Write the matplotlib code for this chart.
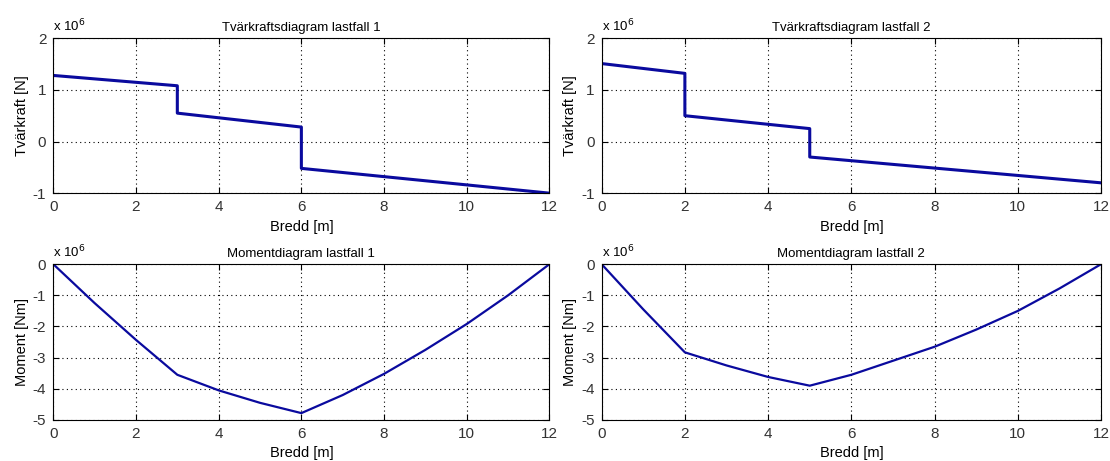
import matplotlib
matplotlib.use('Agg')
import matplotlib.pyplot as plt

plt.rcParams['font.family'] = ['Liberation Sans', 'DejaVu Sans']
plt.rcParams['axes.unicode_minus'] = False

# tvärkraft (x 1e6 N)
x_v1 = [0, 3, 3, 6, 6, 12]
v1 = [1.28, 1.08, 0.55, 0.28, -0.52, -1.0]
x_v2 = [0, 2, 2, 5, 5, 12]
v2 = [1.51, 1.32, 0.50, 0.25, -0.30, -0.80]

# moment (x 1e6 Nm)
x_m = [0, 1, 2, 3, 4, 5, 6, 7, 8, 9, 10, 11, 12]
m1 = [0, -1.25, -2.43, -3.55, -4.05, -4.45, -4.78, -4.2, -3.52, -2.75, -1.92, -1.0, 0]
m2 = [0, -1.45, -2.83, -3.25, -3.62, -3.9, -3.55, -3.1, -2.65, -2.1, -1.5, -0.78, 0]

line_col = '#0a0a9e'

fig = plt.figure(figsize=(11.1, 4.61), dpi=100)
pos = [[0.048, 0.581, 0.447, 0.336],
       [0.542, 0.581, 0.450, 0.336],
       [0.048, 0.089, 0.447, 0.338],
       [0.542, 0.089, 0.450, 0.338]]

panels = [
    (x_v1, v1, 'Tvärkraftsdiagram lastfall 1', 'Tvärkraft [N]', (-1, 2), 2.2),
    (x_v2, v2, 'Tvärkraftsdiagram lastfall 2', 'Tvärkraft [N]', (-1, 2), 2.2),
    (x_m, m1, 'Momentdiagram lastfall 1', 'Moment [Nm]', (-5, 0), 1.6),
    (x_m, m2, 'Momentdiagram lastfall 2', 'Moment [Nm]', (-5, 0), 1.6),
]

for p, (xs, ys, title, ylab, ylim, lw) in zip(pos, panels):
    ax = fig.add_axes(p)
    ax.plot(xs, ys, color=line_col, linewidth=lw)
    ax.set_xlim(0, 12)
    ax.set_ylim(*ylim)
    ax.set_xticks(range(0, 13, 2))
    ax.set_yticks(range(ylim[0], ylim[1] + 1))
    ax.grid(True, linestyle=(0, (1, 3)), color='black', linewidth=0.8)
    ax.tick_params(direction='in', top=True, right=True, labelsize=11,
                   length=4, pad=5, labelcolor='#333333')
    ax.set_title(title, fontsize=9.5, pad=5)
    ax.set_xlabel('Bredd [m]', fontsize=10.5, labelpad=4)
    ax.set_ylabel(ylab, fontsize=10.5, labelpad=3)
    ax.text(0.0, 1.025, r'x 10$^{6}$', transform=ax.transAxes, fontsize=9.5,
            ha='left', va='bottom')
    for s in ax.spines.values():
        s.set_linewidth(0.8)

fig.savefig('out.png', dpi=100)
